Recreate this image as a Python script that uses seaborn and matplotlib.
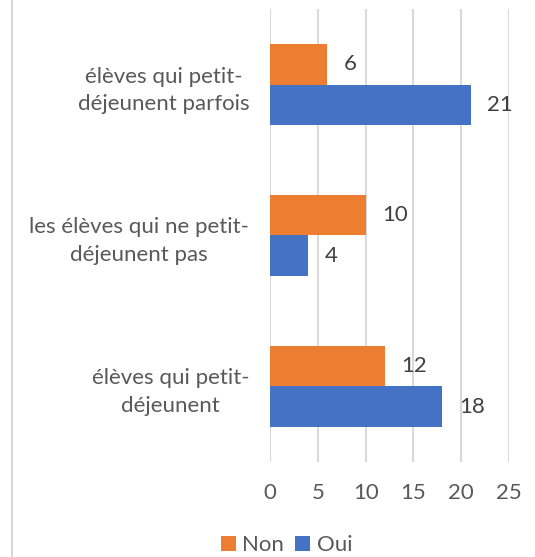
import seaborn as sns
import matplotlib.pyplot as plt
import pandas as pd
from matplotlib.lines import Line2D

# chart data
categories = [
    "élèves qui petit-\ndéjeunent parfois",
    "les élèves qui ne petit-\ndéjeunent pas",
    "élèves qui petit-\ndéjeunent",
]
non_values = [6, 10, 12]
oui_values = [21, 4, 18]
series = ["Non", "Oui"]
x_ticks = [0, 5, 10, 15, 20, 25]

# long form table for seaborn
data = pd.DataFrame({
    "categorie": categories * 2,
    "valeur": non_values + oui_values,
    "reponse": ["Non"] * len(categories) + ["Oui"] * len(categories),
})

sns.set_theme(style="white")
plt.rcParams['font.family'] = ['Lato', 'DejaVu Sans']

fig = plt.figure(figsize=(5.35, 5.57), dpi=100)
ax = fig.add_axes([0.5047, 0.1706, 0.4467, 0.8132])

palette = {"Non": "#ED7D31", "Oui": "#4472C4"}
sns.barplot(data=data, x="valeur", y="categorie", hue="reponse",
            order=categories, hue_order=series, palette=palette,
            orient="h", width=0.534, saturation=1, linewidth=0, ax=ax)

for cont in ax.containers:
    ax.bar_label(cont, padding=12, fontsize=16, color="#404040")

ax.set_xlim(0, 25)
ax.set_xticks(x_ticks)
ax.set_ylim(2.5, -0.5)
ax.grid(axis="x", color="#D9D9D9", linewidth=1.5)
ax.set_axisbelow(True)
for s in ax.spines.values():
    s.set_visible(False)
ax.tick_params(axis="x", length=0, pad=15, labelsize=16, labelcolor="#595959")
ax.tick_params(axis="y", length=0, pad=15, labelsize=16, labelcolor="#595959")
for lbl in ax.get_yticklabels():
    lbl.set_multialignment("center")
    lbl.set_linespacing(1.45)
ax.set_xlabel("")
ax.set_ylabel("")

# legend at the bottom
handles, labels = ax.get_legend_handles_labels()
ax.legend(handles, labels, ncol=2, loc="center", bbox_to_anchor=(0.536, 0.0215),
          bbox_transform=fig.transFigure, frameon=False, fontsize=16,
          handlelength=0.65, handleheight=0.65, handletextpad=0.3,
          columnspacing=0.5, labelcolor="#595959")

# chart border on the left
fig.add_artist(Line2D([12 / 535, 12 / 535], [0, 1], color="#D9D9D9", linewidth=1.5))

fig.savefig("out.png", dpi=100)
